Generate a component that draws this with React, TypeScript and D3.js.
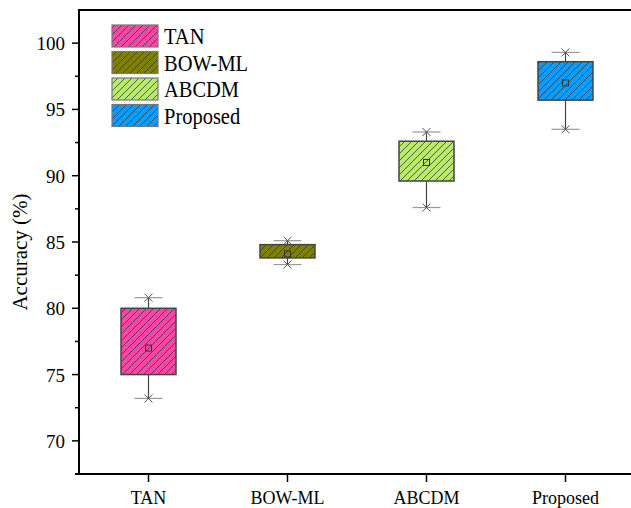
import React from "react";
import * as d3 from "d3";

const categories = ["TAN", "BOW-ML", "ABCDM", "Proposed"];
const whiskerLow = [73.2, 83.3, 87.6, 93.5];
const boxLow = [75.0, 83.8, 89.6, 95.7];
const boxHigh = [80.0, 84.8, 92.6, 98.6];
const whiskerHigh = [80.8, 85.1, 93.3, 99.3];
const means = [77.0, 84.1, 91.0, 97.0];
const fills = ["#ff46a8", "#808000", "#b8ea6c", "#0a9cff"];
const yTicks = [70, 75, 80, 85, 90, 95, 100];
const yMinor = [72.5, 77.5, 82.5, 87.5, 92.5, 97.5];

const W = 631;
const H = 508;
const left = 79, top = 10, right = 635, bottom = 474;

const x = d3.scaleBand<string>().domain(categories).range([left, right]);
const y = d3.scaleLinear().domain([67.5, 102.5]).range([bottom, top]);
const cx = (c: string) => (x(c) as number) + x.bandwidth() / 2;

const serif = { fontFamily: "Liberation Serif" };

const App = () => {
  const bw = 55, capW = 28;
  return (
    <svg width={W} height={H} style={{ position: "absolute", left: 0, top: 0, background: "#fff" }}>
      <defs>
        {fills.map((f, i) => (
          <pattern key={i} id={"hatch" + i} patternUnits="userSpaceOnUse" width={7} height={7}>
            <rect width={7} height={7} fill={f} />
            <path d="M0,7 L7,0 M-2,2 L2,-2 M5,9 L9,5" stroke="#3a3a3a" strokeWidth={0.8} />
          </pattern>
        ))}
      </defs>

      {/* frame */}
      <line x1={left} x2={right} y1={top} y2={top} stroke="#000" strokeWidth={2} />
      <line x1={left} x2={left} y1={top - 1} y2={bottom} stroke="#000" strokeWidth={2} />
      <line x1={left - 4} x2={right} y1={bottom} y2={bottom} stroke="#000" strokeWidth={2} />

      {/* y axis */}
      {yTicks.map(t => (
        <g key={t}>
          <line x1={left - 7} x2={left} y1={y(t)} y2={y(t)} stroke="#000" strokeWidth={1.5} />
          <text x={left - 14} y={y(t) + 7} textAnchor="end" fontSize={19} style={serif}>{t}</text>
        </g>
      ))}
      {yMinor.map(t => (
        <line key={t} x1={left - 4} x2={left} y1={y(t)} y2={y(t)} stroke="#000" strokeWidth={1.5} />
      ))}
      <text transform={`translate(27,${(top + bottom) / 2 + 10}) rotate(-90)`} textAnchor="middle"
        fontSize={21} style={serif}>Accuracy (%)</text>

      {/* x axis */}
      {categories.map(c => (
        <g key={c}>
          <line x1={cx(c)} x2={cx(c)} y1={bottom} y2={bottom + 8} stroke="#000" strokeWidth={1.5} />
          <text x={cx(c)} y={bottom + 30} textAnchor="middle" fontSize={18} style={serif}>{c}</text>
        </g>
      ))}

      {/* boxes */}
      {categories.map((c, i) => {
        const xc = cx(c);
        return (
          <g key={c}>
            <line x1={xc} x2={xc} y1={y(whiskerHigh[i])} y2={y(boxHigh[i])} stroke="#444" strokeWidth={1.2} />
            <line x1={xc} x2={xc} y1={y(boxLow[i])} y2={y(whiskerLow[i])} stroke="#444" strokeWidth={1.2} />
            <rect x={xc - bw / 2} y={y(boxHigh[i])} width={bw} height={y(boxLow[i]) - y(boxHigh[i])}
              fill={`url(#hatch${i})`} stroke="#444" strokeWidth={1.5} />
            {[whiskerHigh[i], whiskerLow[i]].map((v, k) => (
              <g key={k}>
                <line x1={xc - capW / 2} x2={xc + capW / 2} y1={y(v)} y2={y(v)} stroke="#999" strokeWidth={1.2} />
                <path d={`M${xc - 4},${y(v) - 4}L${xc + 4},${y(v) + 4}M${xc - 4},${y(v) + 4}L${xc + 4},${y(v) - 4}`}
                  stroke="#555" strokeWidth={1} />
              </g>
            ))}
            <rect x={xc - 3} y={y(means[i]) - 3} width={6} height={6} fill="none" stroke="#333" strokeWidth={1} />
          </g>
        );
      })}

      {/* legend */}
      {categories.map((c, i) => {
        const ly = 25 + i * 26.5;
        return (
          <g key={c}>
            <rect x={112} y={ly} width={46} height={22} fill={`url(#hatch${i})`} stroke="#777" strokeWidth={1.2} />
            <text transform={`translate(164,${ly + 19}) scale(0.89,1)`} fontSize={23} style={serif}>{c}</text>
          </g>
        );
      })}
    </svg>
  );
};

export default App;
